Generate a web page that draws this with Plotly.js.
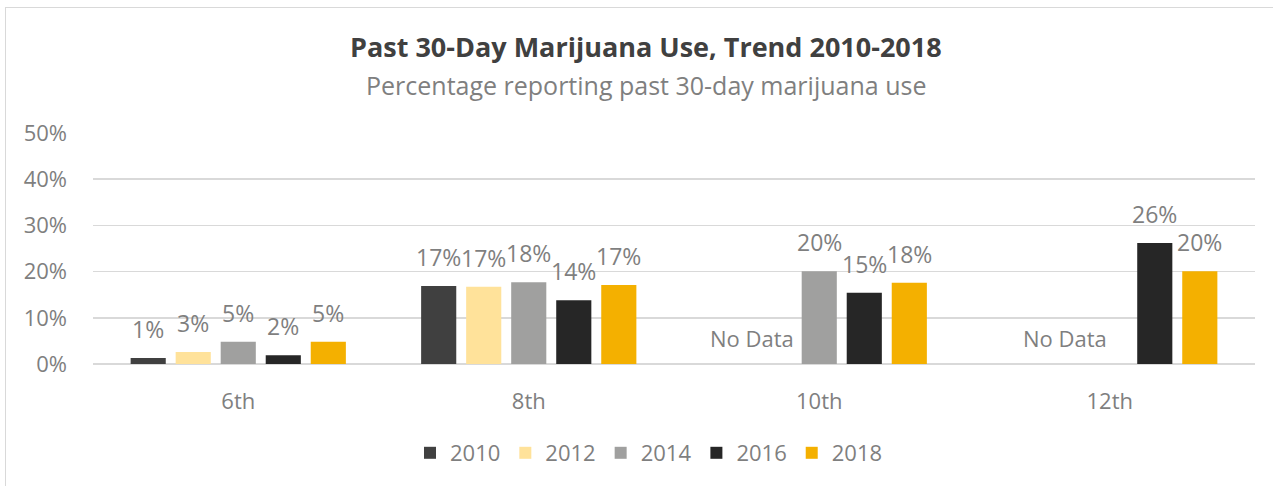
<!DOCTYPE html>
<html>
<head>
<meta charset="utf-8">
<script src="https://cdn.plot.ly/plotly-3.0.1.min.js"></script>
<style>
  html, body { margin: 0; padding: 0; background: #ffffff; }
  #wrap { position: relative; width: 1273px; height: 486px; overflow: hidden; }
  #chart { position: absolute; left: 0; top: 0; width: 1273px; height: 486px; }
  #frame { position: absolute; left: 5px; top: 7px; width: 1280px; height: 500px;
           border: 1.5px solid #d9d9d9; pointer-events: none; box-sizing: border-box; }
</style>
</head>
<body>
<div id="wrap">
  <div id="chart"></div>
  <div id="frame"></div>
</div>
<script>
const grades = ["6th", "8th", "10th", "12th"];
const years = ["2010", "2012", "2014", "2016", "2018"];
const v2010 = [1.3, 16.9, null, null];
const v2012 = [2.6, 16.7, null, null];
const v2014 = [4.8, 17.7, 20.1, null];
const v2016 = [1.9, 13.8, 15.4, 26.2];
const v2018 = [4.8, 17.1, 17.6, 20.1];
const noDataGrades = ["10th", "12th"];
const noDataLabel = "No Data";
const titleText = "Past 30-Day Marijuana Use, Trend 2010-2018";
const subtitleText = "Percentage reporting past 30-day marijuana use";

const seriesValues = [v2010, v2012, v2014, v2016, v2018];
const colors = ["#404040", "#ffe29a", "#a0a09f", "#262626", "#f4b000"];
const FONT = "'Open Sans', 'Noto Sans', sans-serif";
const TXT = "#7f7f7f";

const traces = years.map((y, i) => ({
  type: "bar",
  name: y,
  x: grades,
  y: seriesValues[i],
  marker: { color: colors[i] },
  hoverinfo: "skip"
}));

const plotW = 1273 - 93 - 18;
const bargap = 0.225;
const step = plotW / grades.length * (1 - bargap) / years.length;

const annotations = [];
seriesValues.forEach((vals, i) => {
  vals.forEach((v, j) => {
    if (v === null) return;
    annotations.push({
      x: grades[j], y: v, xref: "x", yref: "y",
      xshift: (i - 2) * step, yshift: 11,
      yanchor: "bottom", xanchor: "center",
      text: Math.round(v) + "%", showarrow: false,
      font: { family: FONT, size: 23, color: TXT }
    });
  });
});
annotations.push({
  x: noDataGrades[0], y: 0, xref: "x", yref: "y", xshift: -1.5 * step, yshift: 26,
  yanchor: "middle", xanchor: "center", text: noDataLabel, showarrow: false,
  font: { family: FONT, size: 22, color: TXT }
});
annotations.push({
  x: noDataGrades[1], y: 0, xref: "x", yref: "y", xshift: -1 * step, yshift: 26,
  yanchor: "middle", xanchor: "center", text: noDataLabel, showarrow: false,
  font: { family: FONT, size: 22, color: TXT }
});
annotations.push({
  x: 646, y: 46, xref: "paper", yref: "paper", text: "<b>" + titleText + "</b>",
  showarrow: false, xanchor: "center", yanchor: "middle",
  font: { family: FONT, size: 27, color: "#404040" }
});
annotations.push({
  x: 646, y: 85, xref: "paper", yref: "paper", text: subtitleText,
  showarrow: false, xanchor: "center", yanchor: "middle",
  font: { family: FONT, size: 25, color: TXT }
});
const L = 93, R = 18, T = 133, B = 122, W = 1273, H = 486;
annotations.forEach(a => {
  if (a.xref === "paper") {
    a.x = (a.x - L) / (W - L - R);
    a.y = (H - B - a.y) / (H - T - B);
  }
});

const layout = {
  width: W, height: H,
  margin: { l: L, r: R, t: T, b: B, pad: 0 },
  paper_bgcolor: "rgba(0,0,0,0)",
  plot_bgcolor: "rgba(0,0,0,0)",
  barmode: "group",
  bargap: bargap,
  bargroupgap: 0.22,
  font: { family: FONT, color: TXT },
  xaxis: {
    type: "category",
    showgrid: false, zeroline: false, showline: false,
    ticks: "", tickfont: { family: FONT, size: 22, color: TXT },
    ticklabelstandoff: 22
  },
  yaxis: {
    range: [0, 50], dtick: 10, ticksuffix: "%",
    showgrid: true, gridcolor: "#d9d9d9", gridwidth: 1.5,
    zeroline: true, zerolinecolor: "#d9d9d9", zerolinewidth: 1.5,
    showline: false, ticks: "",
    tickfont: { family: FONT, size: 22, color: TXT },
    ticklabelstandoff: 25
  },
  showlegend: true,
  legend: {
    orientation: "h",
    x: (649 - L) / (W - L - R), xanchor: "center",
    y: (H - B - 453) / (H - T - B), yanchor: "middle",
    font: { family: FONT, size: 22, color: TXT },
    itemwidth: 30,
    traceorder: "normal"
  },
  annotations: annotations
};

Plotly.newPlot("chart", traces, layout, { displayModeBar: false, staticPlot: true });
</script>
</body>
</html>
